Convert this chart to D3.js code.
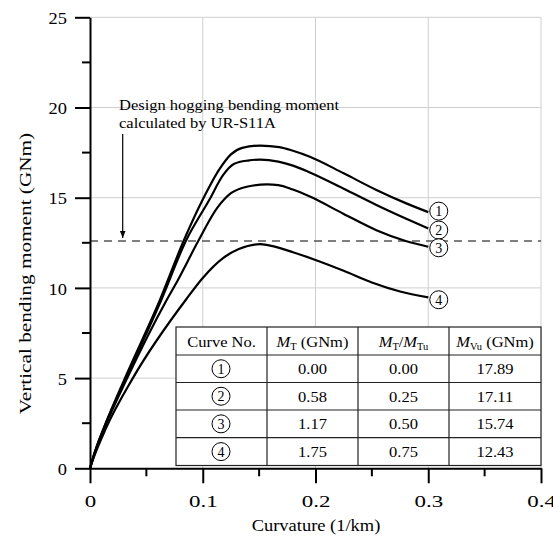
<!DOCTYPE html>
<html>
<head>
<meta charset="utf-8">
<script src="https://cdn.jsdelivr.net/npm/d3@7"></script>
<style>
  body { margin: 0; background: #fff; }
  text { font-family: "Liberation Serif", "Times New Roman", serif; }
</style>
</head>
<body>
<div id="chart"></div>
<script>
const width = 553;
const height = 539;

// curvature (1/km) vs vertical bending moment (GNm)
const curve1 = [[0,0],[0.003,0.65],[0.014,2.5],[0.031,5.0],[0.062,9.33],[0.083,12.6],[0.1,14.9],[0.115,16.6],[0.125,17.4],[0.135,17.76],[0.151,17.89],[0.168,17.8],[0.18,17.6],[0.195,17.27],[0.225,16.35],[0.254,15.43],[0.28,14.7],[0.3,14.2]];
const curve2 = [[0,0],[0.003,0.65],[0.014,2.5],[0.032,5.0],[0.063,9.3],[0.085,12.6],[0.106,14.9],[0.118,16.25],[0.128,16.88],[0.14,17.06],[0.151,17.11],[0.167,17.0],[0.18,16.78],[0.195,16.4],[0.225,15.5],[0.254,14.6],[0.28,13.85],[0.3,13.3]];
const curve3 = [[0,0],[0.003,0.6],[0.014,2.4],[0.033,5.0],[0.068,9.33],[0.078,10.44],[0.096,12.6],[0.113,14.45],[0.125,15.25],[0.14,15.62],[0.157,15.74],[0.167,15.7],[0.18,15.45],[0.195,15.06],[0.225,14.1],[0.254,13.2],[0.28,12.6],[0.3,12.28]];
const curve4 = [[0,0],[0.003,0.55],[0.014,2.2],[0.038,5.0],[0.0857,9.4],[0.1,10.55],[0.118,11.65],[0.132,12.15],[0.151,12.43],[0.163,12.3],[0.18,11.98],[0.2,11.55],[0.225,10.95],[0.25,10.3],[0.275,9.8],[0.3,9.47]];
const curves = [curve1, curve2, curve3, curve4];
const curveNames = ["1", "2", "3", "4"];
const labelShift = [-1, 1.7, 1, 2.3];

const designMoment = 12.6;

const xTicks = [0, 0.1, 0.2, 0.3, 0.4];
const xMinor = [0.05, 0.15, 0.25, 0.35];
const yTicks = [0, 5, 10, 15, 20, 25];
const yMinor = [2.5, 7.5, 12.5, 17.5, 22.5];

// table contents
const tableHeader = ["Curve No.", "MT (GNm)", "MT/MTu", "MVu (GNm)"];
const mT = ["0.00", "0.58", "1.17", "1.75"];
const mTratio = ["0.00", "0.25", "0.50", "0.75"];
const mVu = ["17.89", "17.11", "15.74", "12.43"];

const svg = d3.select("#chart").append("svg")
    .attr("width", width)
    .attr("height", height);

const x = d3.scaleLinear().domain([0, 0.4]).range([90, 541]);
const y = d3.scaleLinear().domain([0, 25]).range([468.3, 17.3]);

// the reference lettering is a little wide, so texts get a horizontal stretch
function wideText(g, px, py, sx, size, str) {
    return g.append("text")
        .attr("transform", `translate(${px},${py}) scale(${sx},1)`)
        .attr("font-size", size)
        .text(str);
}

// grid
svg.append("g").selectAll("line.vg")
    .data(xTicks.slice(1))
    .join("line")
    .attr("x1", d => x(d)).attr("x2", d => x(d))
    .attr("y1", y(0)).attr("y2", y(25))
    .attr("stroke", "#cfcfcf").attr("stroke-width", 1);
svg.append("g").selectAll("line.hg")
    .data(yTicks.slice(1))
    .join("line")
    .attr("x1", x(0)).attr("x2", x(0.4))
    .attr("y1", d => y(d)).attr("y2", d => y(d))
    .attr("stroke", "#cfcfcf").attr("stroke-width", 1);

// design moment line
svg.append("line")
    .attr("x1", x(0)).attr("x2", x(0.4))
    .attr("y1", y(designMoment)).attr("y2", y(designMoment))
    .attr("stroke", "#555").attr("stroke-width", 1.3)
    .attr("stroke-dasharray", "8,6");

// curves
const line = d3.line()
    .x(d => x(d[0]))
    .y(d => y(d[1]))
    .curve(d3.curveMonotoneX);

svg.append("g").selectAll("path")
    .data(curves)
    .join("path")
    .attr("d", line)
    .attr("fill", "none")
    .attr("stroke", "#000")
    .attr("stroke-width", 2.2);

// circled labels at curve ends
const endLabels = svg.append("g").selectAll("g")
    .data(curves)
    .join("g")
    .attr("transform", (d, i) => {
        const last = d[d.length - 1];
        return `translate(${x(last[0]) + 10.5},${y(last[1]) + labelShift[i]})`;
    });
endLabels.append("circle")
    .attr("r", 9)
    .attr("fill", "#fff")
    .attr("stroke", "#000")
    .attr("stroke-width", 1);
endLabels.append("text")
    .attr("text-anchor", "middle")
    .attr("dy", "0.35em")
    .attr("font-size", 14)
    .text((d, i) => curveNames[i]);

// annotation
wideText(svg, 119, 110, 1.1, 15, "Design hogging bending moment");
wideText(svg, 119, 127.5, 1.1, 15, "calculated by UR-S11A");

svg.append("defs").append("marker")
    .attr("id", "arrow")
    .attr("viewBox", "0 0 10 10")
    .attr("refX", 10).attr("refY", 5)
    .attr("markerWidth", 7).attr("markerHeight", 7)
    .attr("markerUnits", "userSpaceOnUse")
    .attr("orient", "auto")
    .append("path")
    .attr("d", "M0,1 L10,5 L0,9 Z")
    .attr("fill", "#000");

svg.append("line")
    .attr("x1", x(0.029)).attr("x2", x(0.029))
    .attr("y1", 134).attr("y2", 238)
    .attr("stroke", "#000").attr("stroke-width", 1.2)
    .attr("marker-end", "url(#arrow)");

// axes
const xAxis = svg.append("g")
    .attr("transform", `translate(0,${y(0)})`)
    .call(d3.axisBottom(x).tickValues(xTicks).tickSize(15).tickSizeOuter(0)
        .tickFormat(d => d === 0 ? "0" : d3.format(".1f")(d)));
xAxis.select(".domain").attr("stroke-width", 2);
xAxis.selectAll(".tick line").attr("stroke-width", 2);
xAxis.selectAll(".tick text")
    .attr("y", 0)
    .attr("dy", null)
    .attr("transform", "translate(0,39) scale(1.35,1)")
    .attr("font-size", 17)
    .attr("font-family", "Liberation Serif");
xAxis.selectAll(".minor")
    .data(xMinor)
    .join("line")
    .attr("class", "minor")
    .attr("x1", d => x(d)).attr("x2", d => x(d))
    .attr("y1", 0).attr("y2", 8)
    .attr("stroke", "#000").attr("stroke-width", 2);

const yAxis = svg.append("g")
    .attr("transform", `translate(${x(0)},0)`)
    .call(d3.axisLeft(y).tickValues(yTicks).tickSize(15).tickSizeOuter(0));
yAxis.select(".domain").attr("stroke-width", 2);
yAxis.selectAll(".tick line").attr("stroke-width", 2);
yAxis.selectAll(".tick text")
    .attr("x", 0)
    .attr("transform", "translate(-23,1) scale(1.15,1)")
    .attr("font-size", 16)
    .attr("font-family", "Liberation Serif");
yAxis.selectAll(".minor")
    .data(yMinor)
    .join("line")
    .attr("class", "minor")
    .attr("x1", 0).attr("x2", -8)
    .attr("y1", d => y(d)).attr("y2", d => y(d))
    .attr("stroke", "#000").attr("stroke-width", 2);

wideText(svg, 316, 531, 1.12, 16.5, "Curvature (1/km)")
    .attr("text-anchor", "middle");

svg.append("text")
    .attr("transform", "translate(31,273.5) rotate(-90) scale(1.25,1)")
    .attr("text-anchor", "middle")
    .attr("font-size", 17)
    .text("Vertical bending moment (GNm)");

// table
const colEdges = [176, 267, 358, 449, 541];
const rowEdges = [327, 355, 382.5, 410, 437.7, 465.5];
const table = svg.append("g");
table.append("rect")
    .attr("x", colEdges[0]).attr("y", rowEdges[0])
    .attr("width", colEdges[4] - colEdges[0])
    .attr("height", rowEdges[5] - rowEdges[0])
    .attr("fill", "#fff")
    .attr("stroke", "#222").attr("stroke-width", 1.2);
table.selectAll("line.col")
    .data(colEdges.slice(1, 4))
    .join("line")
    .attr("x1", d => d).attr("x2", d => d)
    .attr("y1", rowEdges[0]).attr("y2", rowEdges[5])
    .attr("stroke", "#222").attr("stroke-width", 1.2);
table.selectAll("line.row")
    .data(rowEdges.slice(1, 5))
    .join("line")
    .attr("x1", colEdges[0]).attr("x2", colEdges[4])
    .attr("y1", d => d).attr("y2", d => d)
    .attr("stroke", "#222").attr("stroke-width", 1.2);

const colCenter = i => (colEdges[i] + colEdges[i + 1]) / 2;
const rowCenter = i => (rowEdges[i] + rowEdges[i + 1]) / 2;

// header cells with italic symbols and subscripts
function headerCell(i, parts) {
    const t = wideText(table, colCenter(i), rowCenter(0) + 5.5, 1.1, 15, null)
        .attr("text-anchor", "middle");
    parts.forEach(p => {
        const s = t.append("tspan").text(p.t);
        if (p.i) s.attr("font-style", "italic");
        if (p.sub) s.attr("font-size", 9.5).attr("dy", 3);
        if (p.up) s.attr("dy", -3);
    });
}
headerCell(0, [{ t: tableHeader[0] }]);
headerCell(1, [{ t: "M", i: true }, { t: "T", sub: true }, { t: " (GNm)", up: true }]);
headerCell(2, [{ t: "M", i: true }, { t: "T", sub: true }, { t: "/", up: true }, { t: "M", i: true }, { t: "Tu", sub: true }]);
headerCell(3, [{ t: "M", i: true }, { t: "Vu", sub: true }, { t: " (GNm)", up: true }]);

curveNames.forEach((name, r) => {
    const cy = rowCenter(r + 1);
    table.append("circle")
        .attr("cx", colCenter(0) - 0.5).attr("cy", cy)
        .attr("r", 9)
        .attr("fill", "none").attr("stroke", "#000").attr("stroke-width", 1);
    table.append("text")
        .attr("x", colCenter(0) - 0.5).attr("y", cy)
        .attr("dy", "0.35em").attr("text-anchor", "middle")
        .attr("font-size", 14)
        .text(name);
    [mT[r], mTratio[r], mVu[r]].forEach((v, c) => {
        wideText(table, colCenter(c + 1), cy + 5.5, 1.1, 15, v)
            .attr("text-anchor", "middle");
    });
});
</script>
</body>
</html>
